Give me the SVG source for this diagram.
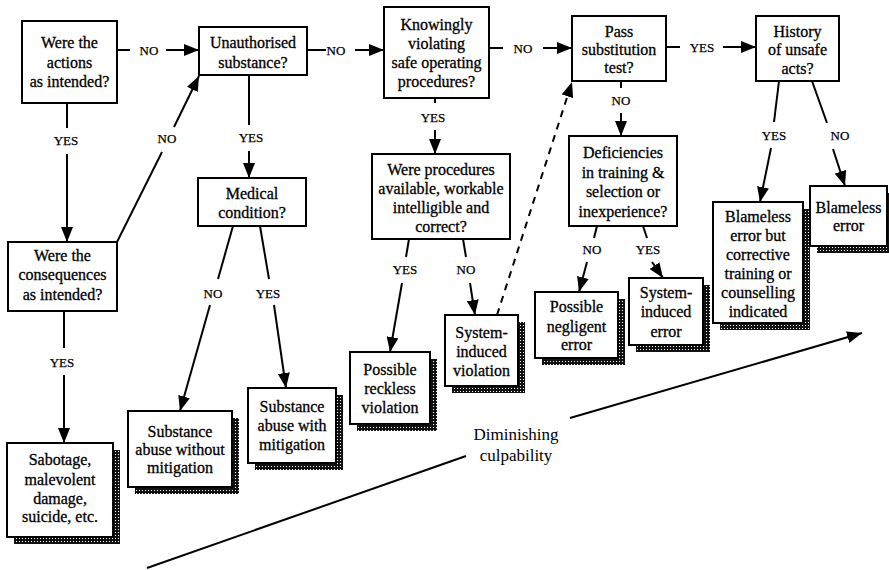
<svg xmlns="http://www.w3.org/2000/svg" width="889" height="570" viewBox="0 0 889 570">
<defs>
<pattern id="stip" width="3" height="3" patternUnits="userSpaceOnUse"><rect width="3" height="3" fill="#111"/><rect x="1" y="1" width="1" height="1" fill="#fff"/></pattern>
<marker id="ah" markerUnits="userSpaceOnUse" markerWidth="16" markerHeight="12" refX="15" refY="6" orient="auto"><path d="M0,0 L15,6 L0,12 Z" fill="#000"/></marker>
<style>
.b{fill:#fff;stroke:#000;stroke-width:2}
.sh{fill:url(#stip);stroke:none}
.t{font-family:"Liberation Serif","Times New Roman",serif;font-size:16px;text-anchor:middle;fill:#000;stroke:#000;stroke-width:0.3}
.l{font-family:"Liberation Serif","Times New Roman",serif;font-size:13px;text-anchor:middle;fill:#000;stroke:#000;stroke-width:0.25}
.c{fill:none;stroke:#000;stroke-width:2}
.a{fill:none;stroke:#000;stroke-width:2;marker-end:url(#ah)}
.d{fill:none;stroke:#000;stroke-width:2;stroke-dasharray:7,6;marker-end:url(#ah)}
.big{font-family:"Liberation Serif","Times New Roman",serif;font-size:17px;text-anchor:middle;fill:#000}
</style>
</defs>
<rect width="889" height="570" fill="#fff"/>

<g id="connectors">
<line class="c" x1="117" y1="50" x2="130" y2="50"/><text class="l" x="149" y="55">NO</text><line class="a" x1="166" y1="50" x2="199" y2="50"/>
<line class="c" x1="307" y1="50" x2="326" y2="50"/><text class="l" x="336" y="55">NO</text><line class="a" x1="355" y1="50" x2="384" y2="50"/>
<line class="c" x1="489" y1="48" x2="503" y2="48"/><text class="l" x="523" y="53">NO</text><line class="a" x1="543" y1="48" x2="572" y2="48"/>
<line class="c" x1="666" y1="47" x2="680" y2="47"/><text class="l" x="702" y="52">YES</text><line class="a" x1="723" y1="47" x2="756" y2="47"/>
<line class="c" x1="67" y1="103" x2="67" y2="128"/><text class="l" x="66" y="145">YES</text><line class="a" x1="67" y1="154" x2="67" y2="242"/>
<line class="c" x1="117" y1="242" x2="162" y2="152"/><text class="l" x="167" y="143">NO</text><line class="a" x1="174" y1="127" x2="199" y2="76"/>
<line class="c" x1="64" y1="311" x2="64" y2="348"/><text class="l" x="62" y="367">YES</text><line class="a" x1="64" y1="375" x2="64" y2="443"/>
<line class="c" x1="249" y1="75" x2="249" y2="125"/><text class="l" x="251" y="142">YES</text><line class="a" x1="249" y1="151" x2="249" y2="178"/>
<line class="c" x1="233" y1="226" x2="218" y2="279"/><text class="l" x="213" y="298">NO</text><line class="a" x1="210" y1="305" x2="180" y2="411"/>
<line class="c" x1="260" y1="226" x2="269" y2="279"/><text class="l" x="268" y="298">YES</text><line class="a" x1="274" y1="305" x2="286" y2="388"/>
<line class="c" x1="435" y1="98" x2="435" y2="103"/><text class="l" x="433" y="122">YES</text><line class="a" x1="435" y1="130" x2="435" y2="154"/>
<line class="c" x1="409" y1="239" x2="406" y2="257"/><text class="l" x="405" y="274">YES</text><line class="a" x1="402" y1="283" x2="390" y2="352"/>
<line class="c" x1="463" y1="239" x2="466" y2="257"/><text class="l" x="466" y="274">NO</text><line class="a" x1="470" y1="283" x2="475" y2="315"/>
<line class="d" x1="497" y1="315" x2="572" y2="82"/>
<line class="c" x1="621" y1="81" x2="621" y2="88"/><text class="l" x="621" y="105">NO</text><line class="a" x1="621" y1="113" x2="621" y2="136"/>
<line class="c" x1="597" y1="226" x2="594" y2="238"/><text class="l" x="592" y="254">NO</text><line class="a" x1="587" y1="262" x2="579" y2="292"/>
<line class="c" x1="643" y1="226" x2="647" y2="238"/><text class="l" x="648" y="254">YES</text><line class="a" x1="652" y1="262" x2="663" y2="278"/>
<line class="c" x1="779" y1="81" x2="774" y2="122"/><text class="l" x="774" y="140">YES</text><line class="a" x1="771" y1="148" x2="760" y2="202"/>
<line class="c" x1="812" y1="81" x2="827" y2="123"/><text class="l" x="840" y="140">NO</text><line class="a" x1="833" y1="149" x2="845" y2="186"/>
<line class="c" x1="147" y1="568" x2="466" y2="456"/>
<line class="a" x1="570" y1="418" x2="862" y2="333"/>
<text class="big" x="516" y="440">Diminishing</text>
<text class="big" x="516" y="461">culpability</text>
</g>

<g id="n-actions"><rect class="b" x="22" y="21" width="95" height="82"/>
<text class="t" x="69.5" y="48">Were the</text><text class="t" x="69.5" y="68">actions</text><text class="t" x="69.5" y="87">as intended?</text></g>

<g id="n-unauth"><rect class="b" x="199" y="27" width="108" height="48"/>
<text class="t" x="253" y="48">Unauthorised</text><text class="t" x="253" y="68">substance?</text></g>

<g id="n-knowingly"><rect class="b" x="384" y="7" width="105" height="91"/>
<text class="t" x="436.5" y="30">Knowingly</text><text class="t" x="436.5" y="49">violating</text><text class="t" x="436.5" y="68">safe operating</text><text class="t" x="436.5" y="87">procedures?</text></g>

<g id="n-pass"><rect class="b" x="572" y="16" width="94" height="65"/>
<text class="t" x="619" y="37">Pass</text><text class="t" x="619" y="55">substitution</text><text class="t" x="619" y="73">test?</text></g>

<g id="n-history"><rect class="b" x="756" y="16" width="83" height="65"/>
<text class="t" x="797.5" y="37">History</text><text class="t" x="797.5" y="55">of unsafe</text><text class="t" x="797.5" y="74">acts?</text></g>

<g id="n-consequences"><rect class="b" x="8" y="242" width="109" height="69"/>
<text class="t" x="62.5" y="261">Were the</text><text class="t" x="62.5" y="280">consequences</text><text class="t" x="62.5" y="300">as intended?</text></g>

<g id="n-medical"><rect class="b" x="198" y="178" width="108" height="48"/>
<text class="t" x="252" y="199">Medical</text><text class="t" x="252" y="218">condition?</text></g>

<g id="n-procedures"><rect class="b" x="372" y="154" width="138" height="85"/>
<text class="t" x="441" y="175">Were procedures</text><text class="t" x="441" y="194">available, workable</text><text class="t" x="441" y="213">intelligible and</text><text class="t" x="441" y="232">correct?</text></g>

<g id="n-deficiencies"><rect class="b" x="569" y="136" width="108" height="90"/>
<text class="t" x="623" y="158">Deficiencies</text><text class="t" x="623" y="178">in training &amp;</text><text class="t" x="623" y="197">selection or</text><text class="t" x="623" y="217">inexperience?</text></g>

<g id="n-sabotage"><rect class="sh" x="14" y="450" width="106" height="94"/><rect class="b" x="7" y="443" width="106" height="94"/>
<text class="t" x="60" y="465">Sabotage,</text><text class="t" x="60" y="485">malevolent</text><text class="t" x="60" y="504">damage,</text><text class="t" x="60" y="522">suicide, etc.</text></g>

<g id="n-sub-without"><rect class="sh" x="135" y="418" width="104" height="76"/><rect class="b" x="128" y="411" width="104" height="76"/>
<text class="t" x="180" y="437">Substance</text><text class="t" x="180" y="455">abuse without</text><text class="t" x="180" y="473">mitigation</text></g>

<g id="n-sub-with"><rect class="sh" x="255" y="395" width="88" height="75"/><rect class="b" x="248" y="388" width="88" height="75"/>
<text class="t" x="292" y="412">Substance</text><text class="t" x="292" y="431">abuse with</text><text class="t" x="292" y="450">mitigation</text></g>

<g id="n-reckless"><rect class="sh" x="357" y="359" width="80" height="72"/><rect class="b" x="350" y="352" width="80" height="72"/>
<text class="t" x="390" y="375">Possible</text><text class="t" x="390" y="394">reckless</text><text class="t" x="390" y="413">violation</text></g>

<g id="n-sys-violation"><rect class="sh" x="452" y="322" width="73" height="71"/><rect class="b" x="445" y="315" width="73" height="71"/>
<text class="t" x="481.5" y="338">System-</text><text class="t" x="481.5" y="357">induced</text><text class="t" x="481.5" y="376">violation</text></g>

<g id="n-negligent"><rect class="sh" x="542" y="299" width="83" height="66"/><rect class="b" x="535" y="292" width="83" height="66"/>
<text class="t" x="576.5" y="312">Possible</text><text class="t" x="576.5" y="332">negligent</text><text class="t" x="576.5" y="350">error</text></g>

<g id="n-sys-error"><rect class="sh" x="636" y="285" width="74" height="67"/><rect class="b" x="629" y="278" width="74" height="67"/>
<text class="t" x="666" y="298">System-</text><text class="t" x="666" y="317">induced</text><text class="t" x="666" y="337">error</text></g>

<g id="n-blameless-but"><rect class="sh" x="720" y="209" width="90" height="121"/><rect class="b" x="713" y="202" width="90" height="121"/>
<text class="t" x="758" y="222">Blameless</text><text class="t" x="758" y="241">error but</text><text class="t" x="758" y="260">corrective</text><text class="t" x="758" y="279">training or</text><text class="t" x="758" y="298">counselling</text><text class="t" x="758" y="317">indicated</text></g>

<g id="n-blameless"><rect class="sh" x="817" y="193" width="72" height="60"/><rect class="b" x="810" y="186" width="77" height="60"/>
<text class="t" x="848.5" y="213">Blameless</text><text class="t" x="848.5" y="231">error</text></g>
</svg>
